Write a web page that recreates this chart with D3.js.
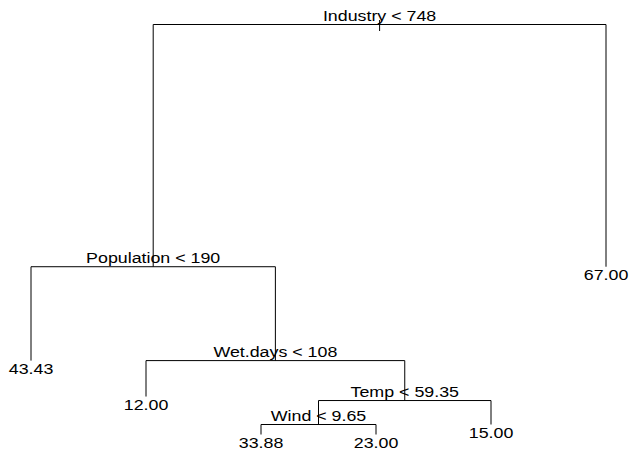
<!DOCTYPE html>
<html>
<head>
<meta charset="utf-8">
<script src="https://cdn.jsdelivr.net/npm/d3@7"></script>
<style>
  html, body { margin: 0; padding: 0; background: #fff; }
  svg { display: block; }
  text { font-family: "Liberation Sans", Arial, Helvetica, sans-serif; fill: #000; }
</style>
</head>
<body>
<svg id="chart" width="631" height="451"></svg>
<script>
// R-style tree node numbers (children of n are 2n and 2n+1)
const nodeIds    = [1, 2, 3, 4, 5, 10, 11, 22, 23, 44, 45];
// split label for internal nodes, fitted value for leaves
const nodeLabels = ["Industry < 748", "Population < 190", "67.00", "43.43", "Wet.days < 108",
                    "12.00", "Temp < 59.35", "Wind < 9.65", "15.00", "33.88", "23.00"];
// plotted depth (deviance-proportional height) of each node
const nodeDepth  = [22037, 9018, 9018, 3972, 3972, 2040, 1825, 537, 537, 0, 0];

const W = 631, H = 451;
const svg = d3.select("#chart");

const byId = new Map(nodeIds.map((id, i) => [id, {id, label: nodeLabels[i], depth: nodeDepth[i]}]));
byId.forEach(n => {
  n.children = [2 * n.id, 2 * n.id + 1].filter(c => byId.has(c)).map(c => byId.get(c));
});
const root = byId.get(1);

// leaf order by in-order traversal; internal nodes at mean of children
let leafIndex = 0;
(function assign(n) {
  if (n.children.length === 0) { n.pos = ++leafIndex; return; }
  n.children.forEach(assign);
  n.pos = d3.mean(n.children, c => c.pos);
})(root);

const x = d3.scaleLinear().domain([1, leafIndex]).range([31, 606]);
const y = d3.scaleLinear().domain([0, 22037]).range([434.5, 24.5]);

const g = svg.append("g").attr("fill", "none").attr("stroke", "#000").attr("stroke-width", 1);
const nodes = Array.from(byId.values());

// root tick
g.append("line")
  .attr("x1", x(root.pos)).attr("x2", x(root.pos))
  .attr("y1", y(root.depth) - 4.5).attr("y2", y(root.depth) + 6.5);

nodes.filter(n => n.children.length).forEach(n => {
  const [l, r] = n.children;
  const py = y(n.depth);
  g.append("path").attr("d",
    `M${x(l.pos)},${y(l.depth)}V${py}H${x(r.pos)}V${y(r.depth)}`);
});

const fs = 15.5, sx = 1.15;
// split labels
svg.selectAll("text.split").data(nodes.filter(n => n.children.length)).join("text")
  .attr("class", "split")
  .attr("text-anchor", "middle")
  .attr("font-size", fs)
  .attr("transform", n => `translate(${x(n.pos)},${y(n.depth) - 3.5}) scale(${sx},1)`)
  .text(n => n.label);

// leaf labels
svg.selectAll("text.leaf").data(nodes.filter(n => !n.children.length)).join("text")
  .attr("class", "leaf")
  .attr("text-anchor", "middle")
  .attr("font-size", fs)
  .attr("transform", n => `translate(${x(n.pos)},${y(n.depth) + 13.5}) scale(${sx},1)`)
  .text(n => n.label);
</script>
</body>
</html>
